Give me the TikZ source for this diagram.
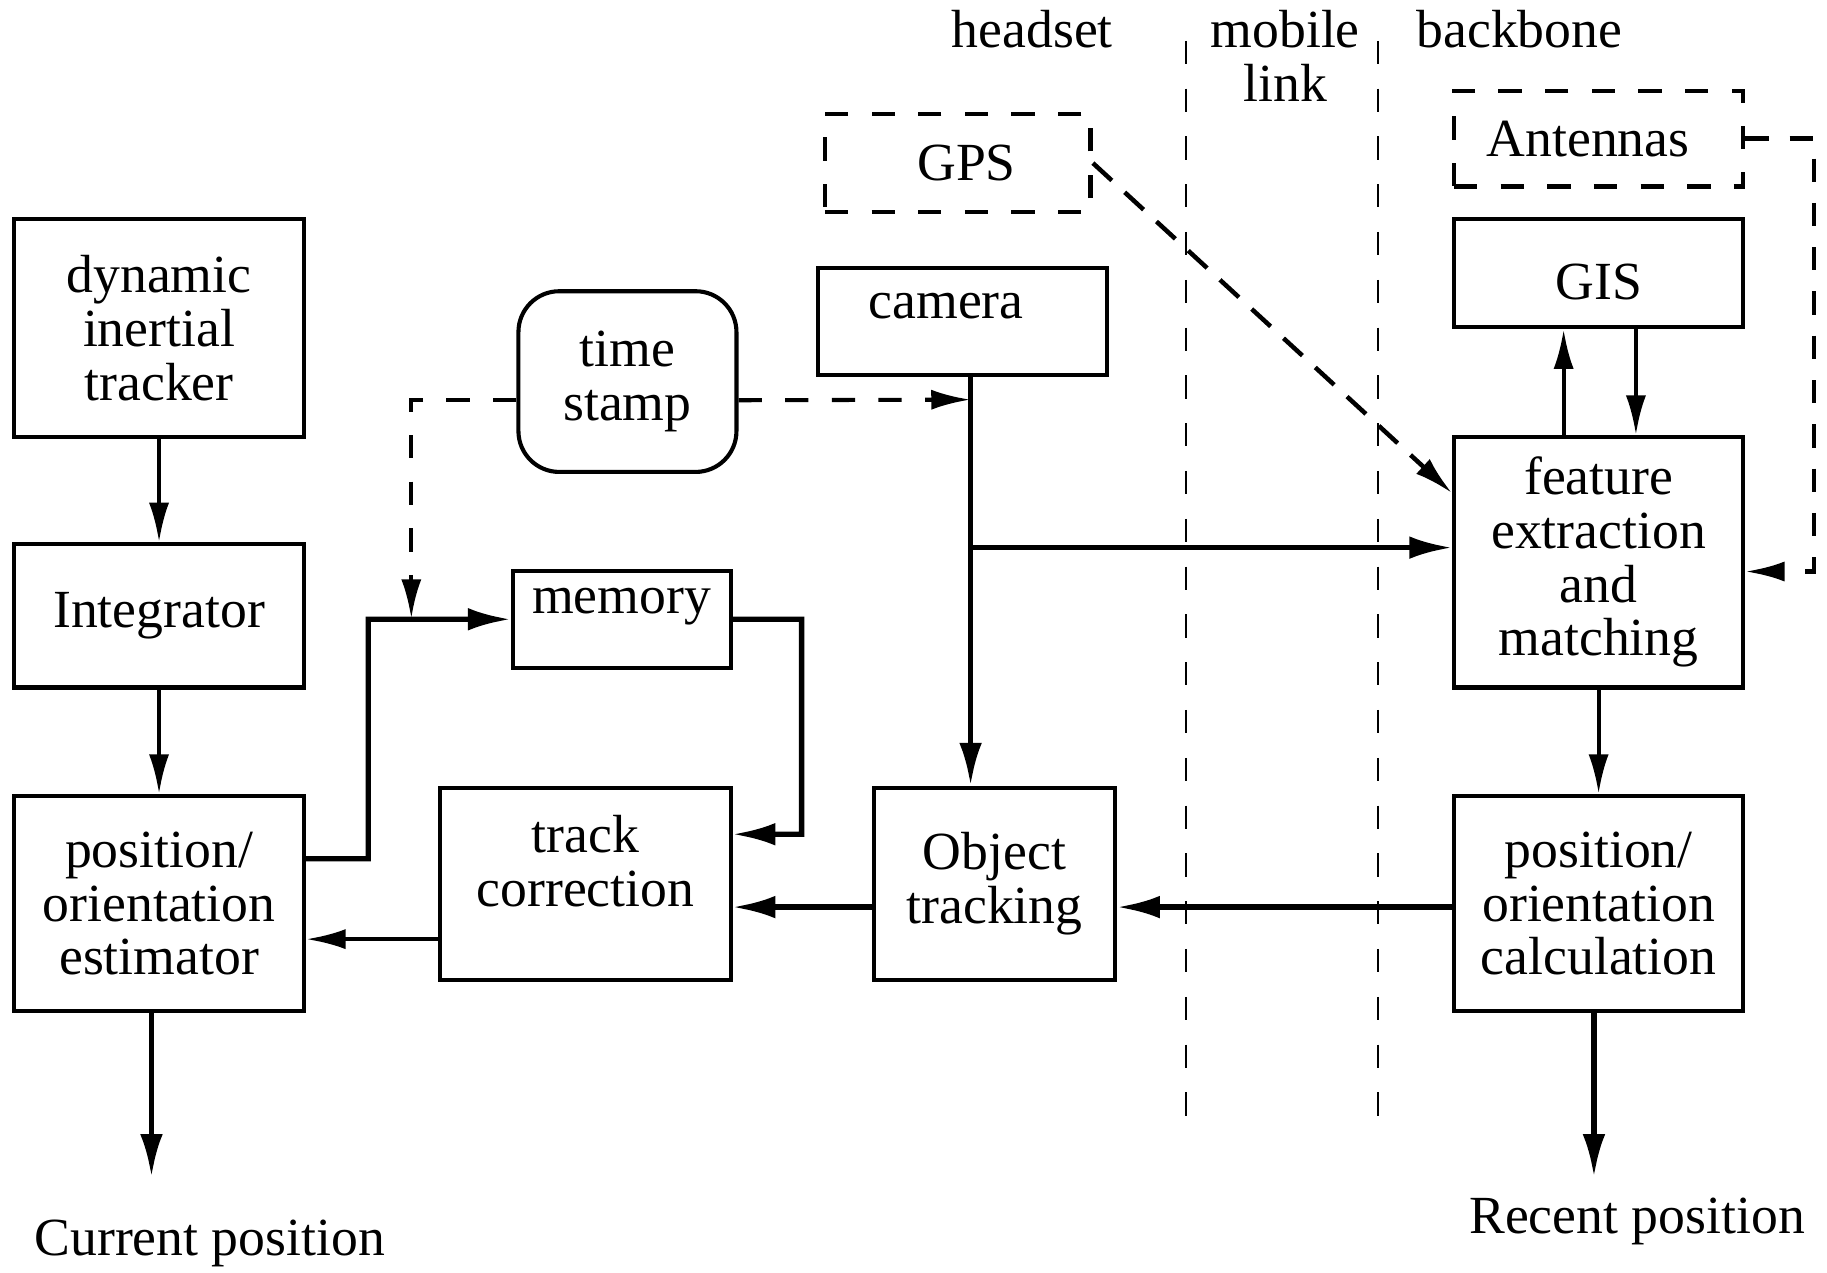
\documentclass[tikz,border=0pt]{standalone}
\usepackage{fontspec}
\setmainfont{Liberation Serif}
\usetikzlibrary{arrows.meta}

\begin{document}
\begin{tikzpicture}[x=0.01cm, y=-0.01cm,
  font=\fontsize{13.1}{13.1}\selectfont,
  blk/.style={draw, line width=1pt, inner sep=0pt, align=center},
  dblk/.style={draw, line width=1.1pt, dash pattern=on 0.2cm off 0.2cm, inner sep=0pt},
  thinarr/.style={line width=0.95pt, -{Latex[length=9.6pt,width=4.9pt]}},
  thickarr/.style={line width=1.3pt, -{Latex[length=10.4pt,width=5.5pt]}},
  dasharr/.style={line width=1pt, dash pattern=on 0.2cm off 0.2cm, -{Latex[length=9.6pt,width=4.9pt]}},
  divider/.style={line width=0.5pt, dash pattern=on 0.2cm off 0.21cm}]

        \useasboundingbox (0,0) rectangle (1568,1092);

        % zones
        \node (headset) at (886,25) {headset};
        \node [align=center] (mobile) at (1103,48) {mobile\\link};
        \node (backbone) at (1304,25) {backbone};
        \draw [divider] (1018,35) -- (1018,965);
        \draw [divider] (1183,35) -- (1183,965);

        % headset side
        \node [blk, minimum width=2.49cm, minimum height=1.87cm] (tracker) at (136.5,281.5) {dynamic\\inertial\\tracker};
        \node [blk, minimum width=2.49cm, minimum height=1.23cm] (integ) at (136.5,528.5) {Integrator};
        \node [blk, minimum width=2.49cm, minimum height=1.85cm] (estl) at (136.5,775.5) {position/\\orientation\\estimator};
        \node [blk, minimum width=1.87cm, minimum height=0.83cm] (memory) at (533.5,531.5) {};
        \node (memtext) at (533.5,521) {memory};
        \node [blk, minimum width=2.49cm, minimum height=1.65cm] (trackc) at (502.5,758.5) {};
        \node [align=center] (tracktext) at (502.5,739) {track\\correction};
        \node [blk, rounded corners=0.35cm, minimum width=1.87cm, minimum height=1.55cm] (stamp) at (538.5,327.5) {time\\stamp};
        \node [blk, minimum width=2.48cm, minimum height=0.92cm] (camera) at (826,276) {};
        \node (camtext) at (812,263) {camera};
        \node [dblk, minimum width=2.28cm, minimum height=0.84cm] (gps) at (822,140) {\kern0.15cm GPS};
        \node [blk, minimum width=2.07cm, minimum height=1.65cm] (objtrack) at (853.5,758.5) {Object\\tracking};

        % backbone side
        \node [dblk, minimum width=2.48cm, minimum height=0.82cm] (antennas) at (1372,119) {Antennas\kern0.18cm};
        \node [blk, minimum width=2.48cm, minimum height=0.93cm, text height=0.45cm] (gis) at (1372,234.5) {GIS};
        \node [blk, minimum width=2.48cm, minimum height=2.15cm] (feature) at (1372,482.5) {feature\\extraction\\and\\matching};
        \node [blk, minimum width=2.48cm, minimum height=1.85cm] (posc) at (1372,775.5) {position/\\orientation\\calculation};

        \node (current) at (180,1067) {Current position};
        \node (recent) at (1405,1048) {Recent position};

        \coordinate (memjog) at (316,737);
        \coordinate (memret) at (688,716);
        \coordinate (stampdrop) at (353,531);
        \coordinate (camline) at (833,343);
        \coordinate (camjoin) at (833,470);
        \coordinate (otin) at ([yshift=-0.2cm]objtrack.east);
        \coordinate (tcin) at ([yshift=-0.2cm]trackc.east);
        \coordinate (tcout) at ([yshift=-0.475cm]trackc.west);
        \coordinate (antbend) at (1557,119);
        \coordinate (curend) at (130,1010);
        \coordinate (recend) at (1368,1010);

        % connectors
        \draw [thinarr] (tracker) -- (integ);
        \draw [thinarr] (integ) -- (estl);
        \draw [thickarr] (estl.south -| curend) -- (curend);
        \draw [thickarr] ([yshift=0.385cm]estl.east) -- (memjog) |- (memory.west);
        \draw [thickarr] (memory.east) -| (memret) -- ([yshift=0.425cm]trackc.east);
        \draw [dasharr] ([yshift=-0.16cm]stamp.west) -| (stampdrop);
        \draw [dasharr] ([yshift=-0.16cm]stamp.east) -- (camline);
        \draw [thickarr] (camera.south -| camjoin) -- (objtrack.north -| camjoin);
        \draw [thickarr] (camjoin) -- (feature.west |- camjoin);
        \draw [thickarr] (otin -| objtrack.west) -- (tcin);
        \draw [thinarr] (tcout) -- (tcout -| estl.east);
        \draw [thickarr] (otin -| posc.west) -- (otin);
        \draw [thinarr] ([xshift=-0.3cm]feature.north) -- ([xshift=-0.3cm]gis.south);
        \draw [thinarr] ([xshift=0.32cm]gis.south) -- ([xshift=0.32cm]feature.north);
        \draw [thinarr] (feature) -- (posc);
        \draw [thickarr] (posc.south -| recend) -- (recend);
        \draw [dasharr, line width=1.1pt, dash pattern=on 0.22cm off 0.15cm] (gps.east) -- ([yshift=-0.5cm]feature.north west);
        \draw [dasharr, line width=1.1pt, dash pattern=on 0.2cm off 0.18cm] (antennas.east) -- (antbend) |- ([yshift=-0.08cm]feature.east);
\end{tikzpicture}
\end{document}
